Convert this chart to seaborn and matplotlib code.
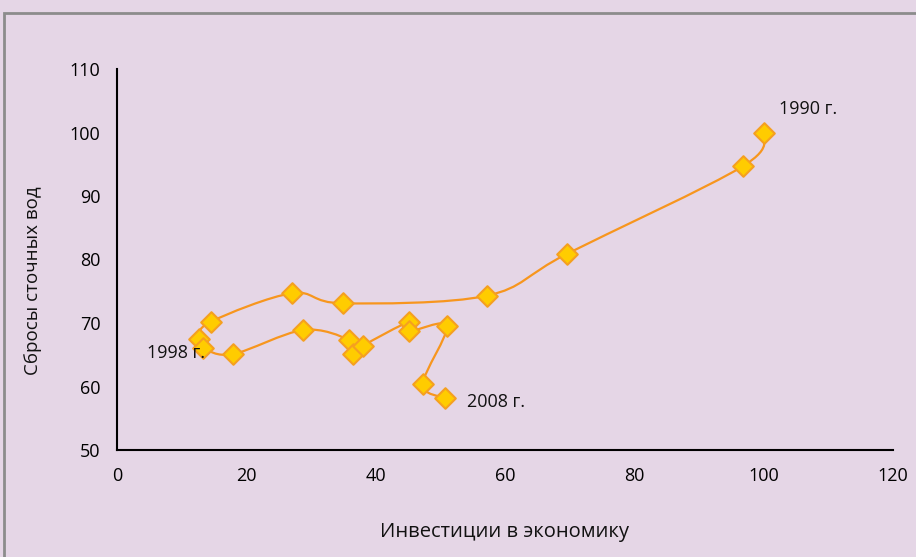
import numpy as np
import pandas as pd
import matplotlib
matplotlib.use("Agg")
import matplotlib.pyplot as plt
from matplotlib.path import Path
from matplotlib.patches import PathPatch, Rectangle
import seaborn as sns

# годы 1990..2008
years = list(range(1990, 2009))
investments = [100.0, 96.8, 69.6, 57.2, 34.9, 27.1, 14.5, 12.7, 13.3, 17.9,
               28.8, 35.9, 36.5, 38.0, 45.2, 45.2, 51.0, 47.3, 50.7]
discharges = [100.0, 94.7, 80.9, 74.3, 73.1, 74.7, 70.2, 67.5, 66.1, 65.1,
              68.9, 67.3, 65.1, 66.4, 70.2, 68.7, 69.5, 60.4, 58.2]
labelled = {1990: "1990 г.", 1998: "1998 г.", 2008: "2008 г."}

BG = "#E5D6E6"
LINE = "#F7961E"
FACE = "#FFCC00"
EDGE = "#F5A020"

df = pd.DataFrame({"year": years, "x": investments, "y": discharges})

sns.set_theme(style="white")
plt.rcParams["font.family"] = ["Open Sans", "DejaVu Sans"]

fig = plt.figure(figsize=(9.16, 5.57), dpi=100, facecolor=BG)
ax = fig.add_axes([117 / 916, 107 / 557, 776 / 916, 381 / 557])
ax.set_facecolor(BG)

# рамка области диаграммы (обрезана справа и снизу)
fig.patches.append(Rectangle((4 / 916, -0.05), 1.2, 1 - 13 / 557 + 0.05,
                             transform=fig.transFigure, fill=False,
                             edgecolor="#8C8C8C", linewidth=2))


def smooth_path(xs, ys, t=1 / 6):
    # сглаженная линия как в Excel: кривые Безье через точки
    pts = np.column_stack([xs, ys])
    verts = [pts[0]]
    codes = [Path.MOVETO]
    n = len(pts)
    for i in range(n - 1):
        p0 = pts[i - 1] if i > 0 else pts[i]
        p1, p2 = pts[i], pts[i + 1]
        p3 = pts[i + 2] if i + 2 < n else pts[i + 1]
        verts += [p1 + (p2 - p0) * t, p2 - (p3 - p1) * t, p2]
        codes += [Path.CURVE4] * 3
    return Path(verts, codes)


ax.add_patch(PathPatch(smooth_path(df["x"], df["y"]), facecolor="none",
                       edgecolor=LINE, linewidth=1.6, zorder=2))
sns.scatterplot(data=df, x="x", y="y", marker="D", s=110, color=FACE,
                edgecolor=EDGE, linewidth=1.5, zorder=3, ax=ax, legend=False)

offsets = {1990: (15, 24, "left"), 1998: (2, -5, "right"), 2008: (22, -4, "left")}
for yr, text in labelled.items():
    row = df[df["year"] == yr].iloc[0]
    dx, dy, ha = offsets[yr]
    ax.annotate(text, (row["x"], row["y"]), xytext=(dx, dy),
                textcoords="offset pixels", ha=ha, va="center",
                fontsize=13, color="#111111")

ax.set_xlim(0, 120)
ax.set_ylim(50, 110)
ax.set_xticks(range(0, 121, 20))
ax.set_yticks(range(50, 111, 10))
for s in ["top", "right"]:
    ax.spines[s].set_visible(False)
for s in ["left", "bottom"]:
    ax.spines[s].set_color("black")
    ax.spines[s].set_linewidth(1.5)
ax.tick_params(axis="both", direction="out", length=5, width=1.2,
               colors="black", labelsize=13, pad=7)
ax.tick_params(axis="x", pad=7)
ax.set_xlabel("Инвестиции в экономику", fontsize=14.5, color="#111111")
ax.set_ylabel("Сбросы сточных вод", fontsize=13.5, color="#111111")
ax.xaxis.set_label_coords(0.5, -0.19)
ax.yaxis.set_label_coords(-0.097, 0.444)
ax.grid(False)

fig.savefig("out.png", dpi=100, facecolor=BG)
